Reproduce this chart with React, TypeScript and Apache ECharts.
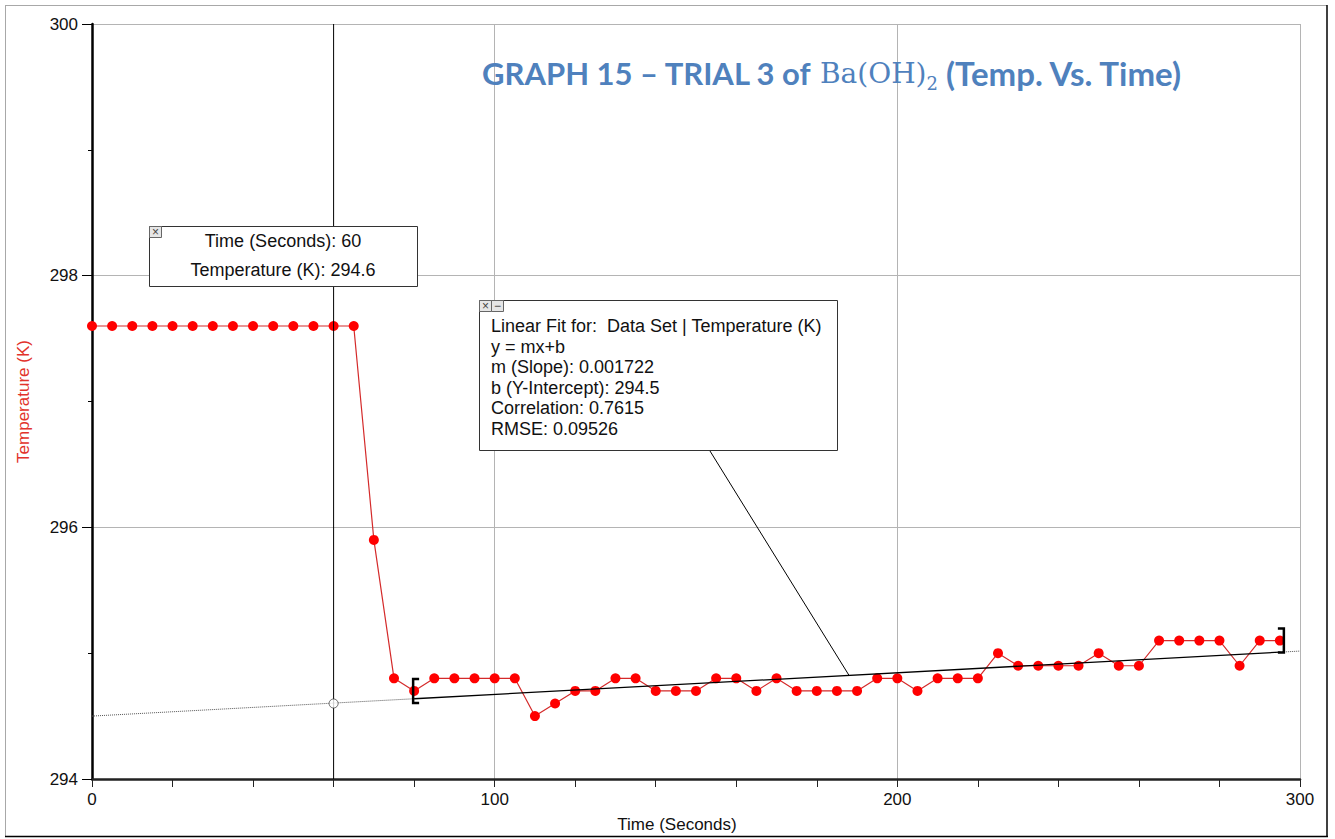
import React, { useEffect, useRef } from "react";
import * as echarts from "echarts";

// ---------- data ----------
const times = [
  0, 5, 10, 15, 20, 25, 30, 35, 40, 45, 50, 55, 60, 65, 70, 75, 80, 85, 90, 95,
  100, 105, 110, 115, 120, 125, 130, 135, 140, 145, 150, 155, 160, 165, 170, 175, 180, 185, 190, 195,
  200, 205, 210, 215, 220, 225, 230, 235, 240, 245, 250, 255, 260, 265, 270, 275, 280, 285, 290, 295,
];
const temps = [
  297.6, 297.6, 297.6, 297.6, 297.6, 297.6, 297.6, 297.6, 297.6, 297.6, 297.6, 297.6, 297.6, 297.6,
  295.9, 294.8, 294.7, 294.8, 294.8, 294.8, 294.8, 294.8, 294.5, 294.6, 294.7, 294.7, 294.8, 294.8,
  294.7, 294.7, 294.7, 294.8, 294.8, 294.7, 294.8, 294.7, 294.7, 294.7, 294.7, 294.8, 294.8, 294.7,
  294.8, 294.8, 294.8, 295.0, 294.9, 294.9, 294.9, 294.9, 295.0, 294.9, 294.9, 295.1, 295.1, 295.1,
  295.1, 294.9, 295.1, 295.1,
];
const xRange = [0, 300];
const yRange = [294, 300];
const fitSlope = 0.001722;
const fitIntercept = 294.5;
const fitStart = 80;
const fitEnd = 295;
const cursorTime = 60;
const cursorTemp = 294.6;
const leaderTime = 188;
const fitStats = [
  "Linear Fit for:  Data Set | Temperature (K)",
  "y = mx+b",
  "m (Slope): 0.001722",
  "b (Y-Intercept): 294.5",
  "Correlation: 0.7615",
  "RMSE: 0.09526",
];
const cursorLabels = [`Time (Seconds): ${cursorTime}`, `Temperature (K): ${cursorTemp}`];

const fit = (t: number) => fitIntercept + fitSlope * t;

export default function App() {
  const ref = useRef<HTMLDivElement>(null);
  useEffect(() => {
    document.body.style.margin = "0";
    const chart = echarts.init(ref.current!, null, { renderer: "svg" });
    const seriesData = times.map((t, i) => [t, temps[i]]);
    const iStart = times.indexOf(fitStart);
    const iEnd = times.indexOf(fitEnd);
    const brackets = [
      [fitStart, temps[iStart], -1],
      [fitEnd, temps[iEnd], 1],
    ];
    const FONT = "Liberation Sans, Arial, sans-serif";
    const blue = "#4f81bd";
    const option: any = {
      animation: false,
      backgroundColor: "#ffffff",
      title: {
        text:
          "{a|GRAPH 15 – TRIAL 3 of }{b|Ba(OH)}{s|2}{c| (Temp. Vs. Time)}",
        left: 482,
        top: 54,
        padding: 0,
        textStyle: {
          rich: {
            a: { fontFamily: "Lato", fontWeight: "bold", fontSize: 31, color: blue, lineHeight: 38, verticalAlign: "middle" },
            b: { fontFamily: "DejaVu Serif", fontWeight: "normal", fontSize: 28, color: blue, lineHeight: 38, verticalAlign: "middle" },
            s: { fontFamily: "DejaVu Serif", fontWeight: "normal", fontSize: 18, color: blue, lineHeight: 38, verticalAlign: "bottom" },
            c: { fontFamily: "Lato", fontWeight: "bold", fontSize: 33, color: blue, lineHeight: 38, verticalAlign: "middle" },
          },
        },
      },
      grid: { left: 92, top: 24, right: 35, bottom: 60 },
      xAxis: {
        type: "value",
        min: xRange[0],
        max: xRange[1],
        interval: 100,
        name: "Time (Seconds)",
        nameLocation: "middle",
        nameGap: 37,
        nameTextStyle: { fontFamily: FONT, fontSize: 17, color: "#111", padding: [0, 38, 0, 0] },
        axisLine: { show: true, onZero: false, lineStyle: { color: "#222", width: 2.5 } },
        axisTick: { show: true, inside: false, length: 8, lineStyle: { color: "#222", width: 1 } },
        minorTick: { show: true, splitNumber: 5, length: 8, lineStyle: { color: "#222", width: 1 } },
        axisLabel: { fontFamily: FONT, fontSize: 17, color: "#111", margin: 12 },
        splitLine: { show: true, lineStyle: { color: "#b4b4b4", width: 1 } },
      },
      yAxis: {
        type: "value",
        min: yRange[0],
        max: yRange[1],
        interval: 2,
        name: "Temperature (K)",
        nameLocation: "middle",
        nameGap: 60,
        nameTextStyle: { fontFamily: FONT, fontSize: 17, color: "#e2322b" },
        axisLine: { show: true, onZero: false, lineStyle: { color: "#000", width: 2.5 } },
        axisTick: { show: true, inside: false, length: 10, lineStyle: { color: "#000", width: 1 } },
        minorTick: { show: true, splitNumber: 2, length: 4, lineStyle: { color: "#000", width: 1 } },
        axisLabel: { fontFamily: FONT, fontSize: 17, color: "#111", margin: 14 },
        splitLine: { show: true, lineStyle: { color: "#b4b4b4", width: 1 } },
      },
      series: [
        {
          type: "line",
          data: seriesData,
          symbol: "circle",
          symbolSize: 10,
          itemStyle: { color: "#ff0000" },
          lineStyle: { color: "#d42a2a", width: 1.2 },
          z: 3,
        },
        {
          type: "line",
          data: [[xRange[0], fit(xRange[0])], [fitStart, fit(fitStart)]],
          symbol: "none",
          lineStyle: { color: "#555", width: 1, type: [1, 1] },
          z: 4,
        },
        {
          type: "line",
          data: [[fitEnd, fit(fitEnd)], [xRange[1], fit(xRange[1])]],
          symbol: "none",
          lineStyle: { color: "#555", width: 1, type: [1, 1] },
          z: 4,
        },
        {
          type: "line",
          data: [[fitStart, fit(fitStart)], [fitEnd, fit(fitEnd)]],
          symbol: "none",
          lineStyle: { color: "#000", width: 1.3 },
          z: 5,
        },
        {
          type: "line",
          data: [[cursorTime, yRange[0]], [cursorTime, yRange[1]]],
          symbol: "none",
          lineStyle: { color: "#000", width: 1 },
          z: 5,
        },
        {
          type: "scatter",
          data: [[cursorTime, cursorTemp]],
          symbol: "circle",
          symbolSize: 9,
          itemStyle: { color: "#ffffff", borderColor: "#444", borderWidth: 1 },
          z: 6,
        },
        {
          type: "custom",
          data: brackets,
          z: 7,
          renderItem: (params: any, api: any) => {
            const p = api.coord([api.value(0), api.value(1)]);
            const dir = api.value(2);
            const h = 12;
            const vx = dir < 0 ? p[0] - 1 : p[0] + 4;
            const ax = dir < 0 ? vx + 6 : vx - 6;
            return {
              type: "polyline",
              shape: { points: [[ax, p[1] - h], [vx, p[1] - h], [vx, p[1] + h], [ax, p[1] + h]] },
              style: { stroke: "#000", lineWidth: 2.5, fill: null },
            };
          },
        },
      ],
    };
    chart.setOption(option);

    const leaderEnd = chart.convertToPixel({ gridIndex: 0 }, [leaderTime, fit(leaderTime)]) as number[];
    const btn = (x: number, y: number, label: string) => [
      {
        type: "rect",
        z: 110,
        shape: { x, y, width: 12, height: 11 },
        style: { fill: "#e6e6e6", stroke: "#666", lineWidth: 1 },
      },
      {
        type: "text",
        z: 111,
        x: x + 6,
        y: y + 5.5,
        style: { text: label, fontFamily: FONT, fontSize: 12, fill: "#444", align: "center", verticalAlign: "middle" },
      },
    ];
    chart.setOption({
      graphic: [
        // outer frame
        { type: "line", z: 100, shape: { x1: 5, y1: 5.5, x2: 1327, y2: 5.5 }, style: { stroke: "#a8a8a8", lineWidth: 1 } },
        { type: "line", z: 100, shape: { x1: 5.5, y1: 5, x2: 5.5, y2: 836 }, style: { stroke: "#a8a8a8", lineWidth: 1 } },
        { type: "line", z: 100, shape: { x1: 1327, y1: 5, x2: 1327, y2: 837 }, style: { stroke: "#000", lineWidth: 1.5 } },
        { type: "line", z: 100, shape: { x1: 5, y1: 836.5, x2: 1328, y2: 836.5 }, style: { stroke: "#000", lineWidth: 1.5 } },
        // leader line
        {
          type: "line",
          z: 90,
          shape: { x1: 710, y1: 451, x2: leaderEnd[0], y2: leaderEnd[1] },
          style: { stroke: "#000", lineWidth: 1 },
        },
        // cursor box
        {
          type: "rect",
          z: 100,
          shape: { x: 149.5, y: 226.5, width: 268, height: 60 },
          style: { fill: "#fff", stroke: "#333", lineWidth: 1 },
        },
        ...cursorLabels.map((t, i) => ({
          type: "text",
          z: 101,
          x: 283,
          y: 241 + i * 29,
          style: { text: t, fontFamily: FONT, fontSize: 18, fill: "#111", align: "center", verticalAlign: "middle" },
        })),
        ...btn(149.5, 226.5, "×"),
        // fit box
        {
          type: "rect",
          z: 100,
          shape: { x: 479.5, y: 300.5, width: 358, height: 150 },
          style: { fill: "#fff", stroke: "#333", lineWidth: 1 },
        },
        ...fitStats.map((t, i) => ({
          type: "text",
          z: 101,
          x: 491,
          y: 326 + i * 20.6,
          style: { text: t, fontFamily: FONT, fontSize: 18, fill: "#111", align: "left", verticalAlign: "middle" },
        })),
        ...btn(479.5, 300.5, "×"),
        ...btn(491.5, 300.5, "−"),
      ],
    });
    return () => chart.dispose();
  }, []);
  return <div ref={ref} style={{ width: 1335, height: 839 }} />;
}
